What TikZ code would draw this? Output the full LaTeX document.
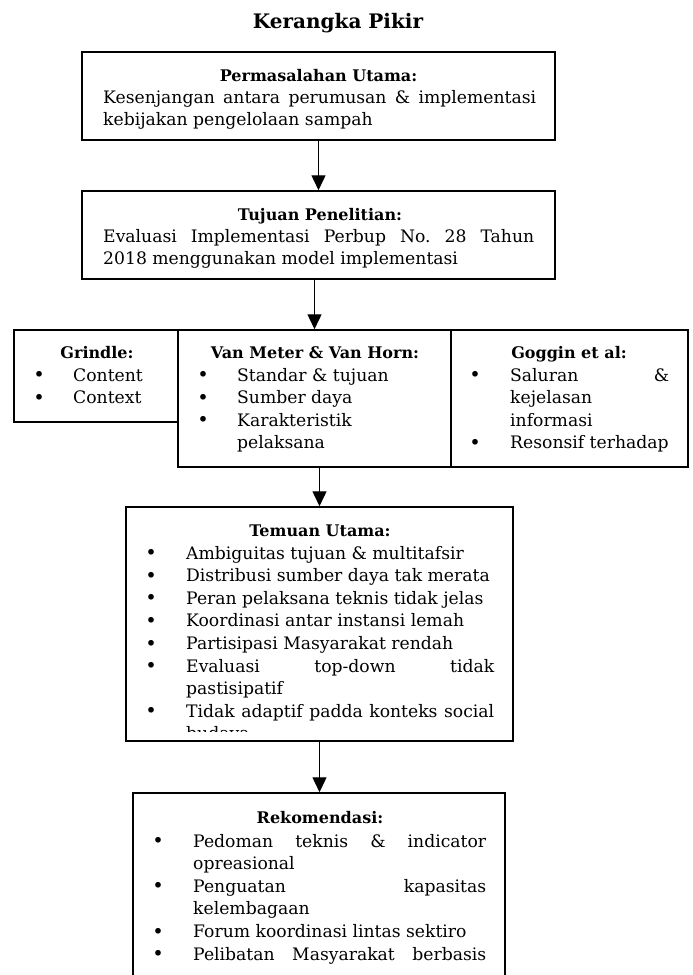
\documentclass[tikz,border=0pt]{standalone}
\usepackage{fontspec}
\setmainfont{DejaVu Serif}
\usetikzlibrary{arrows.meta}
\frenchspacing
\newdimen\bulw \newdimen\txtw
\newcommand\bulsym{\lower0.6pt\hbox{\fontsize{19.5}{20}\selectfont\textbullet}}
\newcommand\bitem[1]{\hbox to \hsize{\hbox to \bulw{\hss\bulsym\hss}\hbox to \txtw{#1\hfil}}}
\newcommand\bitemj[1]{\hbox to \hsize{\hbox to \bulw{\hss\bulsym\hss}\hbox to \txtw{#1}}}
\newcommand\bcont[1]{\hbox to \hsize{\kern\bulw #1\hfil}}
\newcommand\plainl[1]{\hbox to \hsize{#1\hfil}}
\newcommand\justl[1]{\hbox to \hsize{#1}}
\newcommand\bodytext[3]{\vtop{\hsize=#1\bulw=#2\txtw=\dimexpr#1-#2\relax
  \lineskiplimit=-\maxdimen \lineskip=0pt \baselineskip=22.6pt #3}}
\begin{document}
\begin{tikzpicture}[x=1pt,y=-1pt,
  box/.style={draw, line width=1.5pt, inner sep=0pt},
  body/.style={inner sep=0pt, anchor=base west, font=\fontsize{17.2}{22.6}\selectfont},
  head/.style={inner sep=0pt, anchor=base, font=\fontsize{16}{22.6}\selectfont\bfseries},
  arr/.style={line width=1.4pt, -{Triangle[width=14pt,length=15pt]}}]
\useasboundingbox (0,0) rectangle (693,975);
\node[inner sep=0pt, anchor=base, font=\fontsize{20}{24}\selectfont\bfseries] (title) at (338,28) {Kerangka Pikir};
% boxes
\node[box, minimum width=473pt, minimum height=88pt] (b1) at (318.5,96) {};
\node[box, minimum width=473pt, minimum height=88pt] (b2) at (318.5,235) {};
\node[box, minimum width=164pt, minimum height=92pt] (gr) at (96,376) {};
\node[box, minimum width=273pt, minimum height=137pt] (vm) at (314.5,398.5) {};
\node[box, minimum width=237pt, minimum height=137pt] (go) at (569.5,398.5) {};
\node[box, minimum width=387pt, minimum height=234pt] (tem) at (319.5,624) {};
\node[box, minimum width=372pt, minimum height=227pt] (rek) at (319,906.5) {};
% headings
\node[head] (h1) at (318.5,81) {Permasalahan Utama:};
\node[head] (h2) at (320,220) {Tujuan Penelitian:};
\node[head] (hg) at (97,358) {Grindle:};
\node[head] (hv) at (315,358) {Van Meter \& Van Horn:};
\node[head] (hgo) at (569,358) {Goggin et al:};
\node[head] (ht) at (320,536) {Temuan Utama:};
\node[head] (hr) at (320,823) {Rekomendasi:};
% bodies
\node[body] (t1) at (103,103) {\bodytext{433pt}{0pt}{%
  \justl{Kesenjangan antara perumusan \& implementasi}%
  \plainl{kebijakan pengelolaan sampah}}};
\node[body] (t2) at (103,242) {\bodytext{431pt}{0pt}{%
  \justl{Evaluasi Implementasi Perbup No. 28 Tahun}%
  \plainl{2018 menggunakan model implementasi}}};
\node[body] (tg) at (5,381) {\bodytext{165pt}{68pt}{%
  \bitem{Content}\bitem{Context}}};
\node[body] (tv) at (169,381) {\bodytext{271pt}{68pt}{%
  \bitem{Standar \& tujuan}\bitem{Sumber daya}\bitem{Karakteristik}\bcont{pelaksana}}};
\node[body] (tgo) at (440,381) {\bodytext{229pt}{70pt}{%
  \bitemj{Saluran \&}\bcont{kejelasan}\bcont{informasi}\bitem{Resonsif terhadap}}};
\begin{scope}
\clip (126,507) rectangle (513,731);
\node[body] (tt) at (116,559) {\bodytext{378pt}{70pt}{%
  \bitem{Ambiguitas tujuan \& multitafsir}%
  \bitem{Distribusi sumber daya tak merata}%
  \bitem{Peran pelaksana teknis tidak jelas}%
  \bitem{Koordinasi antar instansi lemah}%
  \bitem{Partisipasi Masyarakat rendah}%
  \bitemj{Evaluasi top-down tidak}%
  \bcont{pastisipatif}%
  \bitemj{Tidak adaptif padda konteks social}%
  \bcont{budaya}}};
\end{scope}
\node[body] (tr) at (123,847) {\bodytext{363pt}{70pt}{%
  \bitemj{Pedoman teknis \& indicator}%
  \bcont{opreasional}%
  \bitemj{Penguatan kapasitas}%
  \bcont{kelembagaan}%
  \bitem{Forum koordinasi lintas sektiro}%
  \bitemj{Pelibatan Masyarakat berbasis}}};
% arrows
\draw[arr] (b1.south) -- (b2.north);
\draw[arr] (b2.south -| vm.north) -- (vm.north);
\draw[arr] (vm.south -| tem.north) -- (tem.north);
\draw[arr] (tem.south) -- (tem.south |- rek.north);
\end{tikzpicture}
\end{document}
